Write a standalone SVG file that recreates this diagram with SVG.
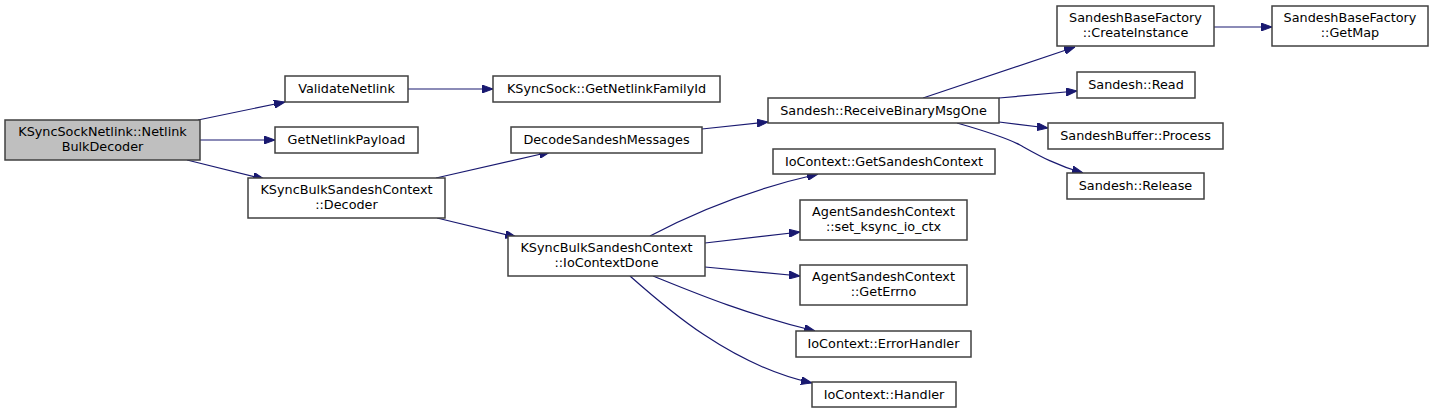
<svg xmlns="http://www.w3.org/2000/svg" width="1435" height="413" viewBox="0 0 1435 413">
<defs>
<style>
.n rect{fill:#ffffff;stroke:#404040;stroke-width:1.5}
.n.root rect{fill:#bfbfbf}
.n text{font-family:"DejaVu Sans","Liberation Sans",sans-serif;font-size:12.8px;fill:#000000;text-anchor:middle}
.e path{fill:none;stroke:#191970;stroke-width:1.2;marker-end:url(#ah)}
</style>
<marker id="ah" markerUnits="userSpaceOnUse" markerWidth="11" markerHeight="8" refX="11" refY="4" orient="auto">
<path d="M0,0 L11,4 L0,8 z" fill="#191970" stroke="#191970" stroke-width="1"/>
</marker>
</defs>
<rect width="1435" height="413" fill="#ffffff"/>
<g id="edges" class="e">
<path d="M198,120 L285,102"/>
<path d="M200,140 L275,140"/>
<path d="M187,160 L264,179"/>
<path d="M408,89 L493,89"/>
<path d="M436,178 L550,152"/>
<path d="M437,218 L516,237"/>
<path d="M702,129 L768,122"/>
<path d="M923,98 L1075,47"/>
<path d="M999,98 L1077,91"/>
<path d="M999,122 L1048,128"/>
<path d="M957,123 C985,131 1005,137 1020,145 C1038,155 1055,165 1083,173"/>
<path d="M1214,27 L1272,27"/>
<path d="M650,236 C680,220 735,193 818,174"/>
<path d="M705,243 L800,232"/>
<path d="M705,267 L800,276"/>
<path d="M653,276 C695,293 745,314 815,331"/>
<path d="M630,276 C665,307 730,365 812,383"/>
</g>
<g id="n1" class="n root"><rect x="5" y="120" width="195" height="40"/><text x="102.5" y="136">KSyncSockNetlink::Netlink</text><text x="102.5" y="151">BulkDecoder</text></g>
<g id="n2" class="n"><rect x="285" y="76" width="123" height="26"/><text x="346.5" y="93">ValidateNetlink</text></g>
<g id="n3" class="n"><rect x="275" y="127" width="143" height="26"/><text x="346.5" y="144">GetNetlinkPayload</text></g>
<g id="n4" class="n"><rect x="248" y="178" width="197" height="40"/><text x="346.5" y="194">KSyncBulkSandeshContext</text><text x="346.5" y="209">::Decoder</text></g>
<g id="n5" class="n"><rect x="493" y="76" width="227" height="26"/><text x="606.5" y="93">KSyncSock::GetNetlinkFamilyId</text></g>
<g id="n6" class="n"><rect x="511" y="127" width="191" height="26"/><text x="606.5" y="144">DecodeSandeshMessages</text></g>
<g id="n7" class="n"><rect x="508" y="236" width="197" height="40"/><text x="606.5" y="252">KSyncBulkSandeshContext</text><text x="606.5" y="267">::IoContextDone</text></g>
<g id="n8" class="n"><rect x="768" y="98" width="231" height="25"/><text x="883.5" y="115">Sandesh::ReceiveBinaryMsgOne</text></g>
<g id="n9" class="n"><rect x="773" y="149" width="222" height="25"/><text x="884" y="166">IoContext::GetSandeshContext</text></g>
<g id="n10" class="n"><rect x="800" y="200" width="167" height="40"/><text x="883.5" y="216">AgentSandeshContext</text><text x="883.5" y="231">::set_ksync_io_ctx</text></g>
<g id="n11" class="n"><rect x="800" y="265" width="167" height="40"/><text x="883.5" y="281">AgentSandeshContext</text><text x="883.5" y="296">::GetErrno</text></g>
<g id="n12" class="n"><rect x="796" y="331" width="175" height="26"/><text x="883.5" y="348">IoContext::ErrorHandler</text></g>
<g id="n13" class="n"><rect x="812" y="382" width="144" height="25"/><text x="884" y="399">IoContext::Handler</text></g>
<g id="n14" class="n"><rect x="1057" y="6" width="157" height="40"/><text x="1135.5" y="22">SandeshBaseFactory</text><text x="1135.5" y="37">::CreateInstance</text></g>
<g id="n15" class="n"><rect x="1077" y="72" width="118" height="26"/><text x="1136" y="89">Sandesh::Read</text></g>
<g id="n16" class="n"><rect x="1048" y="123" width="175" height="26"/><text x="1135.5" y="140">SandeshBuffer::Process</text></g>
<g id="n17" class="n"><rect x="1067" y="173" width="137" height="26"/><text x="1135.5" y="190">Sandesh::Release</text></g>
<g id="n18" class="n"><rect x="1272" y="6" width="156" height="40"/><text x="1350" y="22">SandeshBaseFactory</text><text x="1350" y="37">::GetMap</text></g>
</svg>
